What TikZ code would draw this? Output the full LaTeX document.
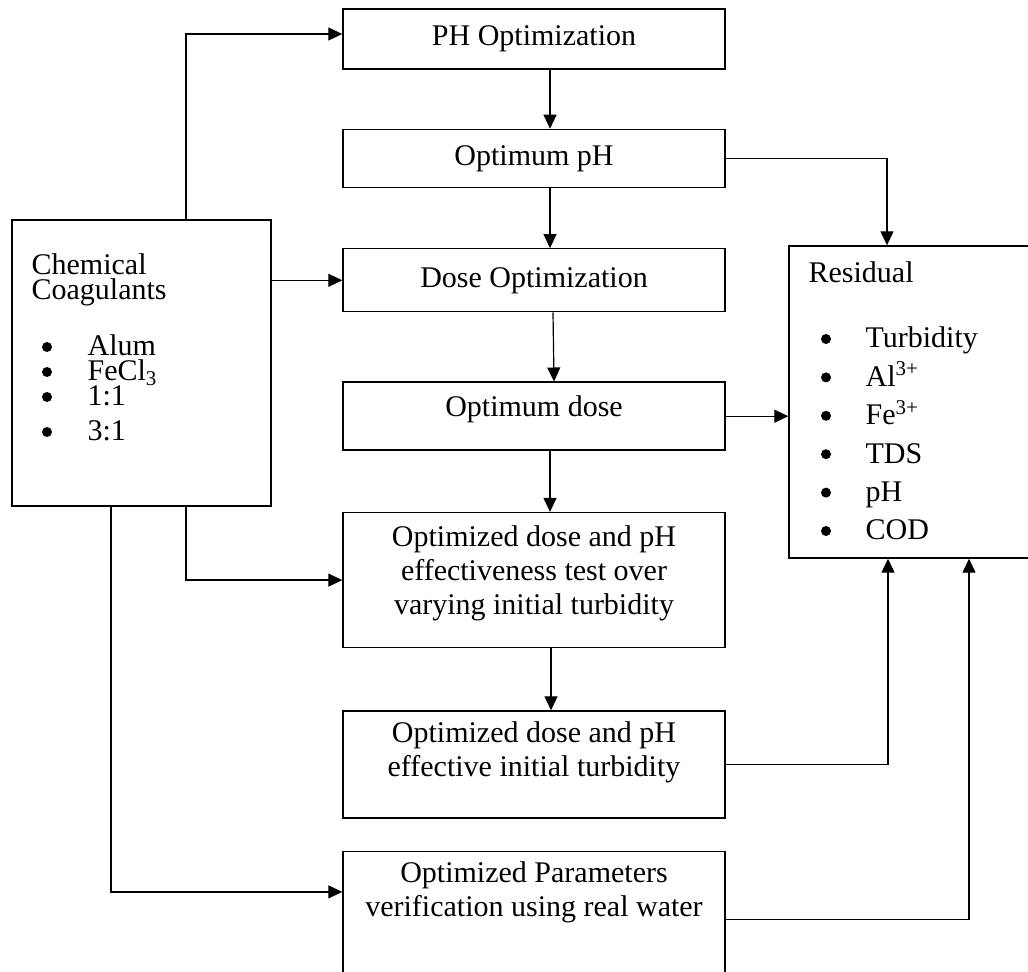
\documentclass[tikz,border=0pt]{standalone}
\usepackage{fontspec}
\setmainfont{Liberation Serif}
\usetikzlibrary{arrows.meta,positioning}

\begin{document}
\begin{tikzpicture}[-,>={Triangle[length=7pt,width=6.5pt]},x=0.5pt,y=-0.5pt,line width=0.6pt,
  box/.style={draw,rectangle,line width=0.7pt,minimum width=191pt,inner sep=0pt,align=center,font=\fontsize{15}{17}\selectfont},
  frame/.style={draw,rectangle,line width=0.7pt,inner sep=0pt},
  txt/.style={inner sep=0pt,font=\fontsize{15}{17}\selectfont},
  dot/.style={circle,fill,inner sep=0pt,minimum size=5pt}]

            \useasboundingbox (0,0) rectangle (1028,972);

            % middle column
            \node[box,minimum height=30pt] (1) at (534,39) {PH Optimization};
            \node[box,minimum height=29pt] (2) [below=29.5pt of 1] {Optimum pH};
            \node[box,minimum height=31.5pt] (3) [below=30pt of 2] {Dose Optimization};
            \node[box,minimum height=34pt] (4) [below=34.5pt of 3] {};
            \node[box,minimum height=67.5pt] (5) [below=30.5pt of 4] {};
            \node[box,minimum height=53.5pt] (6) [below=31pt of 5] {};
            \node[box,minimum height=68pt] (7) [below=16pt of 6] {};
            \node[txt] (4t) at ([yshift=3.5pt]4.center) {Optimum dose};
            \node[txt,align=center] (5t) at ([yshift=3.25pt]5.center) {Optimized dose and pH\\effectiveness test over\\varying initial turbidity};
            \node[txt,align=center] (6t) at ([yshift=6pt]6.center) {Optimized dose and pH\\effective initial turbidity};
            \node[txt,align=center] (7t) at ([yshift=13.75pt]7.center) {Optimized Parameters\\verification using real water};

            % coagulants
            \node[frame,minimum width=129.5pt,minimum height=143pt] (9) at (141.5,363) {};
            \node[txt,anchor=base west] (9t1) at (31,275) {Chemical};
            \node[txt,anchor=base west] (9t2) at (31,300) {Coagulants};
            \foreach \t/\yy [count=\i] in {Alum/356, FeCl\textsubscript{3}/381, 1:1/406, 3:1/441} {
                \node[dot] (9b\i) at (47,\yy-9) {};
                \node[txt,anchor=base west] (9i\i) at (87,\yy) {\t};
            }

            % residual
            \node[frame,minimum width=125.5pt,minimum height=156pt] (8) at (914.5,402) {};
            \node[txt,anchor=base west] (8t) at (808,283) {Residual};
            \foreach \t [count=\i] in {Turbidity, Al\textsuperscript{3+}, Fe\textsuperscript{3+}, TDS, pH, COD} {
                \node[dot] (8b\i) at (826,{339+38.4*(\i-1)}) {};
                \node[txt,anchor=base west] (8i\i) at (865,{348+38.4*(\i-1)}) {\t};
            }

            \draw[->] ([xshift=8pt]1.south) to ([xshift=8pt]2.north);
            \draw[->] ([xshift=8pt]2.south) to ([xshift=8pt]3.north);
            \draw[->] ([xshift=9.5pt]3.south) to ([xshift=10pt]4.north);
            \draw[->] ([xshift=8pt]4.south) to ([xshift=8pt]5.north);
            \draw[->] ([xshift=8.5pt]5.south) to ([xshift=8.5pt]6.north);

            \draw[->] ([xshift=22.25pt]9.north) |- ([yshift=2.5pt]1.west);
            \draw[->] (3.west -| 9.east) to (3.west);
            \draw[->] ([xshift=22.25pt]9.south) |- (5.west);
            \draw[->] ([xshift=-15.25pt]9.south) |- (7.west |- 7t);

            \draw[->] (2.east) -| ([xshift=-13.75pt]8.north);
            \draw[->] (4.east) to (4.east -| 8.west);
            \draw[->] (6.east) -| ([xshift=-13.25pt]8.south);
            \draw[->] (7.east) -| ([xshift=27.25pt]8.south);

            ;
        \end{tikzpicture}
\end{document}
